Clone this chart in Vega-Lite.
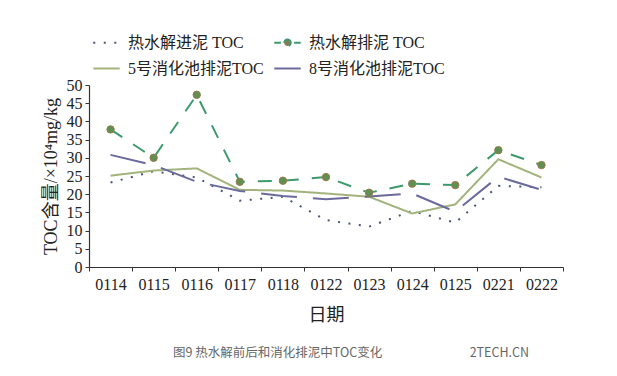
{
  "$schema": "https://vega.github.io/schema/vega-lite/v6.json",
  "width": 474,
  "height": 182,
  "autosize": {"type": "none"},
  "padding": {"left": 89, "top": 85, "right": 54, "bottom": 109},
  "background": "white",
  "config": {
    "view": {"stroke": null},
    "font": "Liberation Serif, Noto Sans CJK SC"
  },
  "title": {
    "text": "图9 热水解前后和消化排泥中TOC变化\u2003\u2003\u2003\u2003\u2003\u2003\u20032TECH.CN",
    "orient": "bottom",
    "anchor": "start",
    "frame": "group",
    "dx": 84,
    "offset": 23,
    "font": "Noto Sans CJK SC",
    "fontSize": 12.5,
    "fontWeight": "normal",
    "color": "#666666"
  },
  "data": {
    "values": [
      {"date": "0114", "series": "热水解进泥 TOC", "value": 23.2},
      {"date": "0115", "series": "热水解进泥 TOC", "value": 26.3},
      {"date": "0116", "series": "热水解进泥 TOC", "value": 24.6},
      {"date": "0117", "series": "热水解进泥 TOC", "value": 18.2},
      {"date": "0118", "series": "热水解进泥 TOC", "value": 19.3},
      {"date": "0122", "series": "热水解进泥 TOC", "value": 12.9},
      {"date": "0123", "series": "热水解进泥 TOC", "value": 11.1},
      {"date": "0124", "series": "热水解进泥 TOC", "value": 15.4},
      {"date": "0125", "series": "热水解进泥 TOC", "value": 12.2},
      {"date": "0221", "series": "热水解进泥 TOC", "value": 22.3},
      {"date": "0222", "series": "热水解进泥 TOC", "value": 21.9},
      {"date": "0114", "series": "热水解排泥 TOC", "value": 37.8},
      {"date": "0115", "series": "热水解排泥 TOC", "value": 30.0},
      {"date": "0116", "series": "热水解排泥 TOC", "value": 47.3},
      {"date": "0117", "series": "热水解排泥 TOC", "value": 23.4},
      {"date": "0118", "series": "热水解排泥 TOC", "value": 23.7},
      {"date": "0122", "series": "热水解排泥 TOC", "value": 24.7},
      {"date": "0123", "series": "热水解排泥 TOC", "value": 20.4},
      {"date": "0124", "series": "热水解排泥 TOC", "value": 22.9},
      {"date": "0125", "series": "热水解排泥 TOC", "value": 22.5},
      {"date": "0221", "series": "热水解排泥 TOC", "value": 32.1},
      {"date": "0222", "series": "热水解排泥 TOC", "value": 28.0},
      {"date": "0114", "series": "5号消化池排泥TOC", "value": 25.1},
      {"date": "0115", "series": "5号消化池排泥TOC", "value": 26.5},
      {"date": "0116", "series": "5号消化池排泥TOC", "value": 27.1},
      {"date": "0117", "series": "5号消化池排泥TOC", "value": 21.2},
      {"date": "0118", "series": "5号消化池排泥TOC", "value": 21.0},
      {"date": "0122", "series": "5号消化池排泥TOC", "value": 20.2},
      {"date": "0123", "series": "5号消化池排泥TOC", "value": 19.3},
      {"date": "0124", "series": "5号消化池排泥TOC", "value": 14.7},
      {"date": "0125", "series": "5号消化池排泥TOC", "value": 17.2},
      {"date": "0221", "series": "5号消化池排泥TOC", "value": 29.6},
      {"date": "0222", "series": "5号消化池排泥TOC", "value": 24.6},
      {"date": "0114", "series": "8号消化池排泥TOC", "value": 30.8},
      {"date": "0115", "series": "8号消化池排泥TOC", "value": 28.0},
      {"date": "0116", "series": "8号消化池排泥TOC", "value": 23.4},
      {"date": "0117", "series": "8号消化池排泥TOC", "value": 20.9},
      {"date": "0118", "series": "8号消化池排泥TOC", "value": 19.5},
      {"date": "0122", "series": "8号消化池排泥TOC", "value": 18.6},
      {"date": "0123", "series": "8号消化池排泥TOC", "value": 19.4},
      {"date": "0124", "series": "8号消化池排泥TOC", "value": 20.2},
      {"date": "0125", "series": "8号消化池排泥TOC", "value": 15.2},
      {"date": "0221", "series": "8号消化池排泥TOC", "value": 24.8},
      {"date": "0222", "series": "8号消化池排泥TOC", "value": 21.2}
    ]
  },
  "encoding": {
    "x": {
      "field": "date",
      "type": "nominal",
      "sort": null,
      "scale": {"paddingInner": 0, "paddingOuter": 0},
      "axis": {
        "title": "日期",
        "titleFont": "Noto Sans CJK SC",
        "titleFontSize": 18,
        "titleFontWeight": "normal",
        "titleColor": "#222222",
        "titlePadding": 14,
        "labelFont": "Liberation Serif",
        "labelFontSize": 16,
        "labelColor": "#222222",
        "labelAngle": 0,
        "labelPadding": 5,
        "tickBand": "extent",
        "tickSize": 4,
        "tickColor": "#333333",
        "domainColor": "#333333",
        "domainWidth": 1.2,
        "grid": false
      }
    },
    "y": {
      "field": "value",
      "type": "quantitative",
      "scale": {"domain": [0, 50], "nice": false},
      "axis": {
        "title": "TOC含量/×10⁴mg/kg",
        "titleFont": "Liberation Serif, Noto Sans CJK SC",
        "titleFontSize": 18,
        "titleFontWeight": "normal",
        "titleColor": "#222222",
        "titlePadding": 6,
        "labelFont": "Liberation Serif",
        "labelFontSize": 16,
        "labelColor": "#222222",
        "labelPadding": 3,
        "values": [0, 5, 10, 15, 20, 25, 30, 35, 40, 45, 50],
        "tickSize": 4,
        "tickColor": "#333333",
        "domainColor": "#333333",
        "domainWidth": 1.2,
        "grid": false
      }
    }
  },
  "layer": [
    {
      "mark": {"type": "line", "strokeWidth": 2, "strokeCap": "butt"},
      "encoding": {
        "color": {
          "field": "series",
          "type": "nominal",
          "scale": {
            "domain": ["热水解进泥 TOC", "热水解排泥 TOC", "5号消化池排泥TOC", "8号消化池排泥TOC"],
            "range": ["#4a5478", "#3d9a6c", "#a3b37c", "#6b6a9c"]
          },
          "legend": {
            "title": null,
            "orient": "top",
            "direction": "horizontal",
            "columns": 2,
            "columnPadding": 6,
            "rowPadding": 3,
            "padding": 3,
            "offset": 5,
            "symbolSize": 700,
            "symbolStrokeWidth": 2,
            "labelFont": "Liberation Serif, Noto Sans CJK SC",
            "labelFontSize": 16,
            "labelColor": "#222222",
            "labelLimit": 200,
            "labelOffset": 7,
            "encode": {
              "symbols": {
                "update": {
                  "shape": {"signal": "datum.value === '热水解排泥 TOC' ? 'M-1,0H-0.5M-0.25,0A0.25,0.25 0 1,1 0.25,0A0.25,0.25 0 1,1 -0.25,0M0.5,0H1' : 'stroke'"},
                  "strokeDash": {"signal": "datum.value === '热水解进泥 TOC' ? [2, 5] : []"},
                  "fill": {"signal": "datum.value === '热水解排泥 TOC' ? '#8a7a50' : 'transparent'"}
                }
              }
            }
          }
        },
        "strokeDash": {
          "field": "series",
          "type": "nominal",
          "scale": {
            "domain": ["热水解进泥 TOC", "热水解排泥 TOC", "5号消化池排泥TOC", "8号消化池排泥TOC"],
            "range": [[2, 8.5], [14, 13], [1, 0], [36, 16]]
          },
          "legend": null
        }
      }
    },
    {
      "transform": [{"filter": "datum.series === '热水解排泥 TOC'"}],
      "mark": {"type": "point", "filled": true, "size": 55, "fill": "#5f8f52", "stroke": "#9a7a4a", "strokeWidth": 1, "opacity": 1}
    }
  ]
}
